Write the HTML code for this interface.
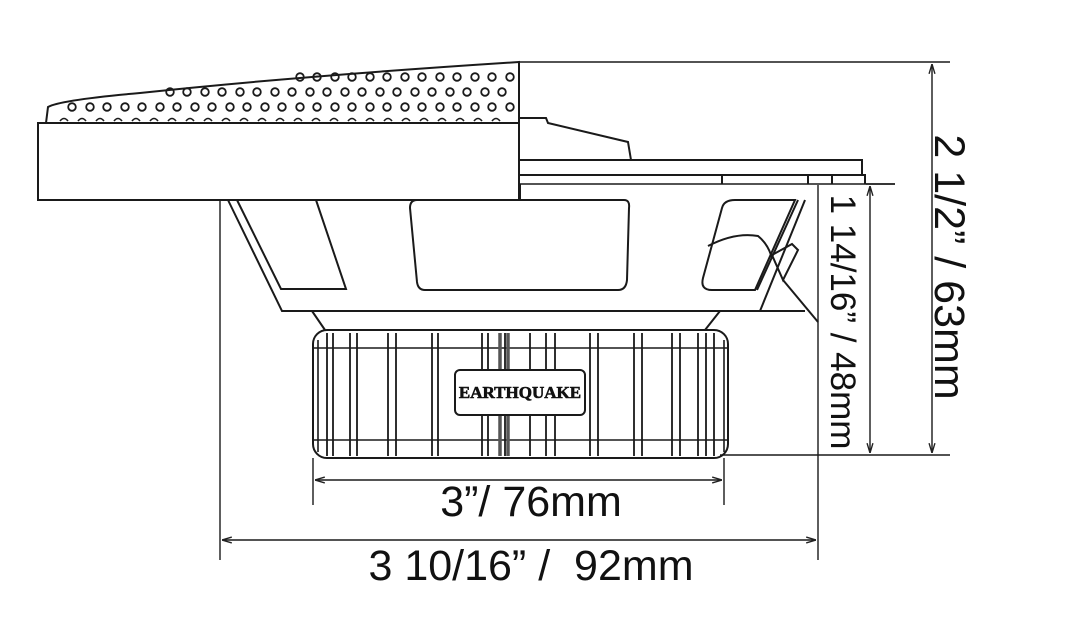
<!DOCTYPE html>
<html><head><meta charset="utf-8"><style>
html,body{margin:0;padding:0;background:#fff;}
svg{display:block}
text{font-family:"Liberation Sans",sans-serif;fill:#111}
</style></head><body>
<svg width="1066" height="628" viewBox="0 0 1066 628" xmlns="http://www.w3.org/2000/svg">
<defs>
<marker id="a" viewBox="0 0 10 10" refX="10" refY="5" markerWidth="7" markerHeight="7" orient="auto-start-reverse"><path d="M0,2 L10,5 L0,8" fill="none" stroke="#222" stroke-width="1.4"/></marker>
</defs>
<g fill="none" stroke="#1a1a1a" stroke-width="2">
<path d="M46,123 L48,107 Q60,100 140,93 Q300,76 519,62 L519,200"/>
<rect x="38" y="123" width="481" height="77"/>
<g stroke-width="1.8">
<circle cx="72" cy="107" r="3.8"/><circle cx="90" cy="107" r="3.8"/><circle cx="107" cy="107" r="3.8"/><circle cx="125" cy="107" r="3.8"/><circle cx="142" cy="107" r="3.8"/><circle cx="160" cy="107" r="3.8"/><circle cx="177" cy="107" r="3.8"/><circle cx="195" cy="107" r="3.8"/><circle cx="212" cy="107" r="3.8"/><circle cx="230" cy="107" r="3.8"/><circle cx="247" cy="107" r="3.8"/><circle cx="265" cy="107" r="3.8"/><circle cx="282" cy="107" r="3.8"/><circle cx="300" cy="107" r="3.8"/><circle cx="317" cy="107" r="3.8"/><circle cx="335" cy="107" r="3.8"/><circle cx="352" cy="107" r="3.8"/><circle cx="370" cy="107" r="3.8"/><circle cx="387" cy="107" r="3.8"/><circle cx="405" cy="107" r="3.8"/><circle cx="422" cy="107" r="3.8"/><circle cx="440" cy="107" r="3.8"/><circle cx="457" cy="107" r="3.8"/><circle cx="475" cy="107" r="3.8"/><circle cx="492" cy="107" r="3.8"/><circle cx="510" cy="107" r="3.8"/>
<circle cx="170" cy="92" r="3.8"/><circle cx="187" cy="92" r="3.8"/><circle cx="205" cy="92" r="3.8"/><circle cx="222" cy="92" r="3.8"/><circle cx="240" cy="92" r="3.8"/><circle cx="257" cy="92" r="3.8"/><circle cx="275" cy="92" r="3.8"/><circle cx="292" cy="92" r="3.8"/><circle cx="310" cy="92" r="3.8"/><circle cx="327" cy="92" r="3.8"/><circle cx="345" cy="92" r="3.8"/><circle cx="362" cy="92" r="3.8"/><circle cx="380" cy="92" r="3.8"/><circle cx="397" cy="92" r="3.8"/><circle cx="415" cy="92" r="3.8"/><circle cx="432" cy="92" r="3.8"/><circle cx="450" cy="92" r="3.8"/><circle cx="467" cy="92" r="3.8"/><circle cx="485" cy="92" r="3.8"/><circle cx="502" cy="92" r="3.8"/>
<circle cx="300" cy="77" r="3.8"/><circle cx="317" cy="77" r="3.8"/><circle cx="335" cy="77" r="3.8"/><circle cx="352" cy="77" r="3.8"/><circle cx="370" cy="77" r="3.8"/><circle cx="387" cy="77" r="3.8"/><circle cx="405" cy="77" r="3.8"/><circle cx="422" cy="77" r="3.8"/><circle cx="440" cy="77" r="3.8"/><circle cx="457" cy="77" r="3.8"/><circle cx="475" cy="77" r="3.8"/><circle cx="492" cy="77" r="3.8"/><circle cx="510" cy="77" r="3.8"/>
</g>
<path d="M60,121 q4,-5 8,0 m10,0 q4,-5 8,0 m10,0 q4,-5 8,0 m10,0 q4,-5 8,0 m10,0 q4,-5 8,0 m10,0 q4,-5 8,0 m10,0 q4,-5 8,0 m10,0 q4,-5 8,0 m10,0 q4,-5 8,0 m10,0 q4,-5 8,0 m10,0 q4,-5 8,0 m10,0 q4,-5 8,0 m10,0 q4,-5 8,0 m10,0 q4,-5 8,0 m10,0 q4,-5 8,0 m10,0 q4,-5 8,0 m10,0 q4,-5 8,0 m10,0 q4,-5 8,0 m10,0 q4,-5 8,0 m10,0 q4,-5 8,0 m10,0 q4,-5 8,0 m10,0 q4,-5 8,0 m10,0 q4,-5 8,0 m10,0 q4,-5 8,0 m10,0 q4,-5 8,0" stroke-width="1.6"/>
<path d="M519,118 L546,118 L548,123 L628,142 L631,160"/>
<path d="M519,160 L862,160 L862,175"/>
<path d="M519,175 L865,175 L865,184"/>
<path d="M519,184 L895,184" stroke-width="1.5"/>
<path d="M722,175 V184 M808,175 V184 M832,175 V184"/>
<path d="M220,200 L519,200"/>
<path d="M228,200 L282,311 L805,311"/>
<path d="M237,200 L281,289 L346,289 L316,200"/>
<path d="M412,200 H624 Q630,200 629,208 L627,280 Q626,290 618,290 H425 Q418,290 417,282 L410,208 Q410,200 417,200"/>
<path d="M520,184 V200"/>
<path d="M805,200 L760,311"/>
<path d="M798,200 L757,290"/>
<path d="M735,200 H795 L755,290 H712 Q700,290 703,278 L722,208 Q724,200 735,200 Z"/>
<path d="M708,246 Q735,232 758,236 Q768,244 772,258"/>
<path d="M772,255 L792,244 L798,250 L783,280 Z"/>
<path d="M783,280 L818,322"/>
<path d="M312,311 L325,330 M720,311 L705,330"/>
<rect x="313" y="330" width="415" height="128" rx="14"/>
<path d="M313,348 H728 M313,440 H728 M318,340 V452 M724,340 V452" stroke-width="1.6"/>
<path d="M327,333 V456 M333,333 V456 M350,333 V456 M357,333 V456 M388,333 V456 M396,333 V456 M432,333 V456 M438,333 V456 M482,333 V456 M488,333 V456 M505,333 V456 M530,333 V456 M546,333 V456 M555,333 V456 M590,333 V456 M598,333 V456 M634,333 V456 M642,333 V456 M672,333 V456 M680,333 V456 M698,333 V456 M706,333 V456 M714,333 V456" stroke-width="1.8"/>
<path d="M500,333 V456 M508,333 V456" stroke="#555" stroke-width="3.5"/>
<rect x="455" y="370" width="130" height="45" rx="5" fill="#fff"/>
<path d="M519,62 H950 M720,455 H950 M866,184 H895" stroke-width="1.4"/>
<path d="M220,200 V560 M818,185 V560 M313,458 V505 M724,458 V505" stroke-width="1.4"/>
<path d="M932,64 V453" stroke-width="1.4" marker-start="url(#a)" marker-end="url(#a)"/>
<path d="M870,186 V453" stroke-width="1.4" marker-start="url(#a)" marker-end="url(#a)"/>
<path d="M222,540 H816" stroke-width="1.4" marker-start="url(#a)" marker-end="url(#a)"/>
<path d="M315,480 H722" stroke-width="1.4" marker-start="url(#a)" marker-end="url(#a)"/>
</g>
<text x="520" y="398" font-size="17" font-weight="bold" text-anchor="middle" style="font-family:'Liberation Serif',serif" fill="#111" stroke="#111" stroke-width="0.6">EARTHQUAKE</text>
<text x="531" y="516" font-size="43" text-anchor="middle">3”/ 76mm</text>
<text x="531" y="580" font-size="43" text-anchor="middle" xml:space="preserve">3 10/16” /  92mm</text>
<text transform="translate(935,267) rotate(90)" font-size="43" text-anchor="middle">2 1/2” / 63mm</text>
<text transform="translate(831,322) rotate(90)" font-size="35" text-anchor="middle">1 14/16” / 48mm</text>
</svg>
</body></html>
